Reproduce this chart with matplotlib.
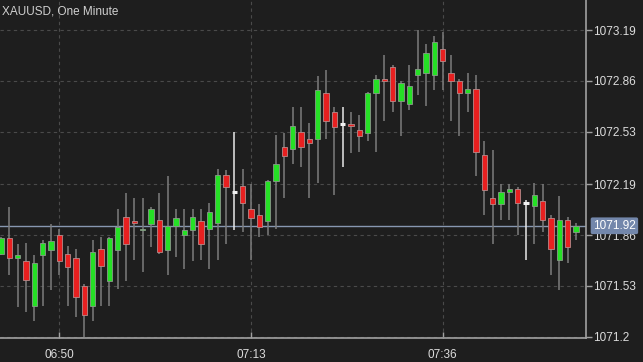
import matplotlib
matplotlib.use("Agg")
from matplotlib import pyplot as plt
import matplotlib.transforms as mtransforms
import numpy as np

# one-minute XAUUSD candles
opens = [1071.74, 1071.84, 1071.71, 1071.69, 1071.40, 1071.73, 1071.76, 1071.86, 1071.74, 1071.71,
         1071.53, 1071.40, 1071.77, 1071.56, 1071.76, 1071.98, 1071.95, 1071.89, 1071.93, 1071.96,
         1071.76, 1071.92, 1071.86, 1071.89, 1071.95, 1071.90, 1071.94, 1072.25, 1072.14, 1072.18,
         1072.03, 1071.99, 1071.95, 1072.21, 1072.43, 1072.42, 1072.53, 1072.48, 1072.48, 1072.78,
         1072.66, 1072.58, 1072.58, 1072.54, 1072.52, 1072.78, 1072.87, 1072.95, 1072.73, 1072.71,
         1072.90, 1072.91, 1072.90, 1073.07, 1072.91, 1072.86, 1072.78, 1072.81, 1072.38, 1072.10,
         1072.06, 1072.14, 1072.16, 1072.07, 1072.05, 1072.08, 1071.97, 1071.70, 1071.96, 1071.88]
highs = [1071.85, 1072.04, 1071.80, 1071.81, 1071.73, 1071.83, 1071.93, 1071.90, 1071.79, 1071.77,
         1071.54, 1071.83, 1071.85, 1071.85, 1072.03, 1072.13, 1072.10, 1072.10, 1072.04, 1072.13,
         1072.24, 1072.03, 1072.03, 1072.03, 1072.03, 1072.07, 1072.29, 1072.28, 1072.53, 1072.29,
         1072.19, 1072.06, 1072.22, 1072.51, 1072.52, 1072.69, 1072.69, 1072.59, 1072.89, 1072.93,
         1072.69, 1072.69, 1072.66, 1072.64, 1072.79, 1072.90, 1073.03, 1072.96, 1072.86, 1072.96,
         1073.19, 1073.10, 1073.15, 1073.18, 1073.03, 1072.87, 1072.91, 1072.90, 1072.47, 1072.41,
         1072.19, 1072.19, 1072.17, 1072.09, 1072.20, 1072.19, 1071.99, 1072.11, 1071.98, 1071.94]
lows = [1071.73, 1071.60, 1071.39, 1071.36, 1071.30, 1071.40, 1071.50, 1071.60, 1071.40, 1071.33,
        1071.20, 1071.30, 1071.40, 1071.40, 1071.51, 1071.56, 1071.70, 1071.62, 1071.78, 1071.74,
        1071.60, 1071.72, 1071.64, 1071.69, 1071.70, 1071.64, 1071.70, 1071.80, 1071.89, 1071.88,
        1071.70, 1071.85, 1071.86, 1071.90, 1072.10, 1072.32, 1072.30, 1072.10, 1072.20, 1072.48,
        1072.12, 1072.30, 1072.39, 1072.40, 1072.47, 1072.40, 1072.60, 1072.66, 1072.50, 1072.67,
        1072.77, 1072.70, 1072.80, 1072.80, 1072.60, 1072.50, 1072.66, 1072.24, 1071.99, 1071.80,
        1071.96, 1071.96, 1071.86, 1071.70, 1071.80, 1071.88, 1071.60, 1071.50, 1071.68, 1071.83]
closes = [1071.84, 1071.71, 1071.73, 1071.57, 1071.68, 1071.81, 1071.82, 1071.69, 1071.65, 1071.46,
          1071.34, 1071.75, 1071.66, 1071.84, 1071.91, 1071.80, 1071.94, 1071.90, 1072.03, 1071.75,
          1071.92, 1071.97, 1071.89, 1071.98, 1071.80, 1072.01, 1072.25, 1072.17, 1072.14, 1072.07,
          1071.97, 1071.91, 1072.21, 1072.32, 1072.37, 1072.57, 1072.43, 1072.46, 1072.80, 1072.60,
          1072.56, 1072.58, 1072.57, 1072.50, 1072.78, 1072.87, 1072.86, 1072.73, 1072.845, 1072.83,
          1072.94, 1073.04, 1073.11, 1072.99, 1072.86, 1072.78, 1072.81, 1072.40, 1072.15, 1072.06,
          1072.14, 1072.16, 1072.07, 1072.07, 1072.12, 1071.96, 1071.77, 1071.96, 1071.78, 1071.92]

time_ticks = [7, 30, 53]
time_labels = ["06:50", "07:13", "07:36"]
price_ticks = [1071.2, 1071.53, 1071.86, 1072.19, 1072.53, 1072.86, 1073.19]
price_labels = ["1071.2", "1071.53", "1071.86", "1072.19", "1072.53", "1072.86", "1073.19"]
last_price = 1071.92
title = "XAUUSD, One Minute"

bg = "#1e1e1e"
up_col = "#25e025"
down_col = "#e82020"
wick_col = "#7c7c7c"
axis_col = "#a0a0a0"

plt.rcParams["font.family"] = ["Liberation Sans", "DejaVu Sans"]

fig = plt.figure(figsize=(6.43, 3.62), dpi=100, facecolor=bg)
ax = fig.add_axes([0, 24.5 / 362, 586 / 643, 337.5 / 362], facecolor=bg)

o = np.array(opens)
h = np.array(highs)
l = np.array(lows)
c = np.array(closes)
x = np.arange(len(o))
flat = np.isclose(o, c, rtol=0, atol=1e-6)
up = (c > o) & ~flat
down = (c < o) & ~flat

# wicks
ax.vlines(x[~flat], l[~flat], h[~flat], color=wick_col, lw=1.1, zorder=2)
ax.vlines(x[flat], l[flat], h[flat], color="#e8e8e8", lw=1.1, zorder=2)

# bodies
w = 0.66
ax.bar(x[up], (c - o)[up], bottom=o[up], width=w, color=up_col,
       edgecolor="#8a9a8a", linewidth=0.6, zorder=3)
ax.bar(x[down], (o - c)[down], bottom=c[down], width=w, color=down_col,
       edgecolor="#b88a8a", linewidth=0.6, zorder=3)
ax.hlines(o[flat], x[flat] - w / 2, x[flat] + w / 2, color="#f0f0f0", lw=2.2, zorder=3)

# last price line + label
ax.axhline(last_price, color="#8797b0", lw=1.0, zorder=1.5)
trans = mtransforms.blended_transform_factory(ax.transAxes, ax.transData)
ax.text(1.012, last_price, "%.2f" % last_price, transform=trans, ha="left", va="center",
        fontsize=8.5, color="white", zorder=5,
        bbox=dict(boxstyle="round,pad=0.2,rounding_size=0.15", fc="#7387ab", ec="none"))

ax.set_xlim(-0.12, 70.2)
ax.set_ylim(1071.195, 1073.385)

ax.set_xticks(time_ticks)
ax.set_xticklabels(time_labels)
ax.yaxis.tick_right()
ax.set_yticks(price_ticks)
ax.set_yticklabels(price_labels)
ax.tick_params(axis="y", colors=axis_col, labelcolor="#dcdcdc", labelsize=8.5,
               length=4, width=1, pad=1)
ax.tick_params(axis="x", colors=axis_col, labelcolor="#dcdcdc", labelsize=8.5,
               direction="in", length=4, width=1, pad=8)

ax.grid(True, color="#4a4a4a", linestyle=(0, (3, 3)), lw=0.8)
ax.set_axisbelow(True)
for side in ["left", "top"]:
    ax.spines[side].set_visible(False)
for side in ["right", "bottom"]:
    ax.spines[side].set_color(axis_col)
    ax.spines[side].set_linewidth(1.2)

ax.text(0.004, 0.985, title, transform=ax.transAxes, ha="left", va="top",
        fontsize=8.5, color="#d0d0d0")

plt.savefig("out.png", dpi=100, facecolor=bg)
